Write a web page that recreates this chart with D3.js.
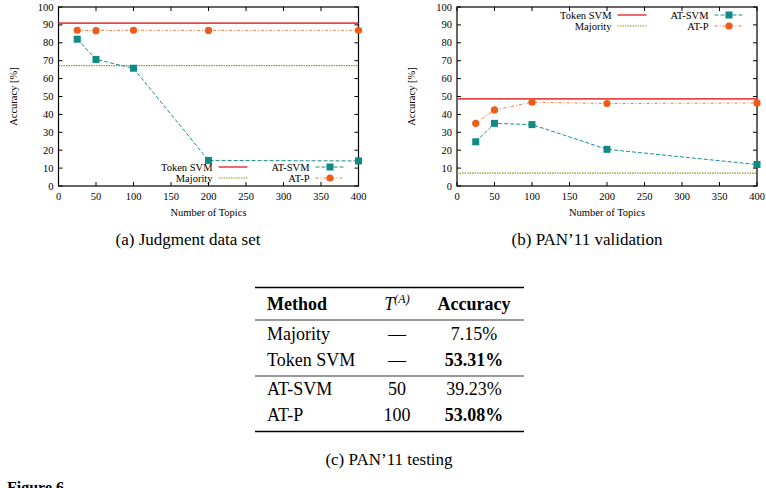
<!DOCTYPE html>
<html lang="en">
<head>
<meta charset="UTF-8">
<title>Figure 6</title>
<script src="https://d3js.org/d3.v7.min.js"></script>
<style>
  body { margin: 0; background: #fff; }
  text { font-family: "Liberation Serif", "DejaVu Serif", serif; }
</style>
</head>
<body>
<svg id="main" width="766" height="488"></svg>
<script>
    // topics on the x axis
    let topics = [25, 50, 100, 200, 400];
    let xTicks = [0, 50, 100, 150, 200, 250, 300, 350, 400];
    let yTicks = [0, 10, 20, 30, 40, 50, 60, 70, 80, 90, 100];

    // (a) Judgment data set
    let judgTokenSvm = 91;
    let judgMajority = 67.3;
    let judgAtSvm = [82, 70.7, 65.8, 14.3, 14];
    let judgAtP = [87, 86.8, 87, 86.9, 87];

    // (b) PAN'11 validation
    let panTokenSvm = 48.7;
    let panMajority = 7.15;
    let panAtSvm = [24.7, 35, 34.3, 20.5, 12];
    let panAtP = [35, 42.5, 46.8, 46.1, 46.4];

    // (c) PAN'11 testing table
    let tableMethods = ['Majority', 'Token SVM', 'AT-SVM', 'AT-P'];
    let tableTopics = ['—', '—', '50', '100'];
    let tableAcc = ['7.15%', '53.31%', '39.23%', '53.08%'];
    let tableBold = [false, true, false, true];

    let colors = {token: '#e8474a', majority: '#8c9a1e', atsvm: '#1a9090', atsvmMark: '#0f8a86', atp: '#f07a40', atpMark: '#ef5a1a'};

    let svg = d3.select('#main');

    function drawChart(ox, data, legendPos) {
        let g = svg.append('g');
        let x = d3.scaleLinear().domain([0, 400]).range([ox, ox + 300]);
        let y = d3.scaleLinear().domain([0, 100]).range([186, 7]);

        // frame
        g.append('rect').attr('x', x(0)).attr('y', y(100))
            .attr('width', x(400) - x(0)).attr('height', y(0) - y(100))
            .attr('fill', 'none').attr('stroke', '#000').attr('stroke-width', 1.2);

        // ticks inward, mirrored
        xTicks.forEach(function(t) {
            g.append('line').attr('x1', x(t)).attr('x2', x(t)).attr('y1', y(0)).attr('y2', y(0) - 4).attr('stroke', '#000');
            g.append('line').attr('x1', x(t)).attr('x2', x(t)).attr('y1', y(100)).attr('y2', y(100) + 4).attr('stroke', '#000');
            g.append('text').attr('x', x(t)).attr('y', 200).attr('text-anchor', 'middle')
                .attr('font-size', 10.5).text(t);
        });
        yTicks.forEach(function(t) {
            g.append('line').attr('x1', x(0)).attr('x2', x(0) + 4).attr('y1', y(t)).attr('y2', y(t)).attr('stroke', '#000');
            g.append('line').attr('x1', x(400)).attr('x2', x(400) - 4).attr('y1', y(t)).attr('y2', y(t)).attr('stroke', '#000');
            g.append('text').attr('x', x(0) - 5).attr('y', y(t) + 3.5).attr('text-anchor', 'end')
                .attr('font-size', 10.5).text(t);
        });

        g.append('text').attr('x', x(200)).attr('y', 216).attr('text-anchor', 'middle')
            .attr('font-size', 10.5).text('Number of Topics');
        g.append('text').attr('transform', 'translate(' + (ox - 42) + ',' + y(50) + ') rotate(-90)')
            .attr('text-anchor', 'middle').attr('font-size', 10.5).text('Accuracy [%]');

        // horizontal baselines
        g.append('line').attr('x1', x(0)).attr('x2', x(400)).attr('y1', y(data.token)).attr('y2', y(data.token))
            .attr('stroke', colors.token).attr('stroke-width', 1.6);
        g.append('line').attr('x1', x(0)).attr('x2', x(400)).attr('y1', y(data.majority)).attr('y2', y(data.majority))
            .attr('stroke', colors.majority).attr('stroke-width', 1.2).attr('stroke-dasharray', '1.5,1');

        let line = d3.line().x(function(d) { return x(d[0]); }).y(function(d) { return y(d[1]); });
        let svmPts = d3.zip(topics, data.atsvm);
        let pPts = d3.zip(topics, data.atp);

        g.append('path').attr('d', line(pPts)).attr('fill', 'none').attr('stroke', colors.atp)
            .attr('stroke-width', 1).attr('stroke-dasharray', '3,2,1,2');
        g.append('path').attr('d', line(svmPts)).attr('fill', 'none').attr('stroke', colors.atsvm)
            .attr('stroke-width', 1).attr('stroke-dasharray', '4,2');

        g.selectAll('.sq').data(svmPts).enter().append('rect')
            .attr('x', function(d) { return x(d[0]) - 3.5; }).attr('y', function(d) { return y(d[1]) - 3.5; })
            .attr('width', 7).attr('height', 7).attr('fill', colors.atsvmMark);
        g.selectAll('.dot').data(pPts).enter().append('circle')
            .attr('cx', function(d) { return x(d[0]); }).attr('cy', function(d) { return y(d[1]); })
            .attr('r', 3.6).attr('fill', colors.atpMark);

        // legend
        let lx = legendPos.x, ly = legendPos.y;
        let rows = [
            {label: 'Token SVM', col: 0, row: 0},
            {label: 'Majority', col: 0, row: 1},
            {label: 'AT-SVM', col: 1, row: 0},
            {label: 'AT-P', col: 1, row: 1}
        ];
        rows.forEach(function(r) {
            let tx = lx + r.col * 97;
            let ty = ly + r.row * 11;
            g.append('text').attr('x', tx).attr('y', ty + 3.5).attr('text-anchor', 'end')
                .attr('font-size', 10.5).text(r.label);
            let l = g.append('line').attr('x1', tx + 6).attr('x2', tx + 35).attr('y1', ty).attr('y2', ty);
            if (r.label === 'Token SVM') l.attr('stroke', colors.token).attr('stroke-width', 1.6);
            if (r.label === 'Majority') l.attr('stroke', colors.majority).attr('stroke-width', 1.2).attr('stroke-dasharray', '1.5,1');
            if (r.label === 'AT-SVM') {
                l.attr('stroke', colors.atsvm).attr('stroke-dasharray', '4,2');
                g.append('rect').attr('x', tx + 17).attr('y', ty - 3.5).attr('width', 7).attr('height', 7).attr('fill', colors.atsvmMark);
            }
            if (r.label === 'AT-P') {
                l.attr('stroke', colors.atp).attr('stroke-dasharray', '3,2,1,2');
                g.append('circle').attr('cx', tx + 20.5).attr('cy', ty).attr('r', 3.6).attr('fill', colors.atpMark);
            }
        });
    }

    drawChart(58.5, {token: judgTokenSvm, majority: judgMajority, atsvm: judgAtSvm, atp: judgAtP}, {x: 212.5, y: 167});
    drawChart(457, {token: panTokenSvm, majority: panMajority, atsvm: panAtSvm, atp: panAtP}, {x: 611.5, y: 15});

    // subfigure captions
    svg.append('text').attr('x', 188).attr('y', 245).attr('text-anchor', 'middle')
        .attr('font-size', 17).text('(a) Judgment data set');
    svg.append('text').attr('x', 587).attr('y', 245).attr('text-anchor', 'middle')
        .attr('font-size', 17).text('(b) PAN\u201911 validation');

    // table (c)
    let t = svg.append('g');
    let tl = 255, tr = 524;
    t.append('line').attr('x1', tl).attr('x2', tr).attr('y1', 287.5).attr('y2', 287.5).attr('stroke', '#000').attr('stroke-width', 1.4);
    t.append('line').attr('x1', tl).attr('x2', tr).attr('y1', 320).attr('y2', 320).attr('stroke', '#000').attr('stroke-width', 0.8);
    t.append('line').attr('x1', tl).attr('x2', tr).attr('y1', 376).attr('y2', 376).attr('stroke', '#000').attr('stroke-width', 0.8);
    t.append('line').attr('x1', tl).attr('x2', tr).attr('y1', 431.5).attr('y2', 431.5).attr('stroke', '#000').attr('stroke-width', 1.4);

    t.append('text').attr('x', 267).attr('y', 310).attr('font-size', 18).attr('font-weight', 'bold').text('Method');
    let th = t.append('text').attr('x', 397).attr('y', 310).attr('text-anchor', 'middle').attr('font-size', 18);
    th.append('tspan').attr('font-style', 'italic').text('T');
    th.append('tspan').attr('font-size', 12).attr('dy', -7).attr('font-style', 'italic').text('(A)');
    t.append('text').attr('x', 474).attr('y', 310).attr('text-anchor', 'middle').attr('font-size', 18).attr('font-weight', 'bold').text('Accuracy');

    let rowY = [340, 366, 395, 421];
    tableMethods.forEach(function(m, i) {
        t.append('text').attr('x', 267).attr('y', rowY[i]).attr('font-size', 18).text(m);
        t.append('text').attr('x', 397).attr('y', rowY[i]).attr('text-anchor', 'middle').attr('font-size', 18).text(tableTopics[i]);
        t.append('text').attr('x', 474).attr('y', rowY[i]).attr('text-anchor', 'middle').attr('font-size', 18)
            .attr('font-weight', tableBold[i] ? 'bold' : 'normal').text(tableAcc[i]);
    });

    svg.append('text').attr('x', 389).attr('y', 465).attr('text-anchor', 'middle')
        .attr('font-size', 17).text('(c) PAN\u201911 testing');

    svg.append('text').attr('x', 7).attr('y', 493).attr('font-size', 16).attr('font-weight', 'bold').text('Figure 6');
</script>
</body>
</html>
